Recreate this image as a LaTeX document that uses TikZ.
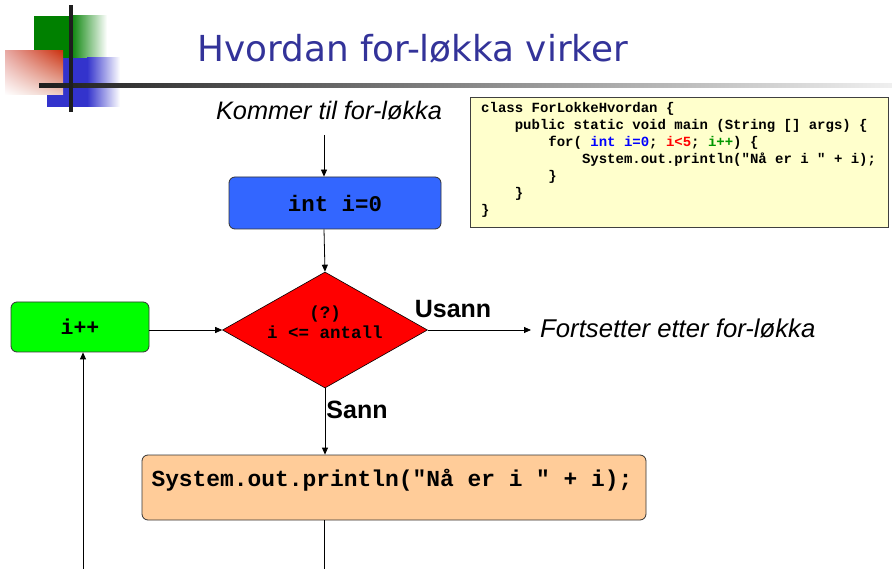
\documentclass[tikz,border=0pt]{standalone}
\usepackage{fontspec}
\setmainfont{Liberation Sans}
\newfontfamily\titlefont{DejaVu Sans}
\newfontfamily\codefont{Liberation Mono}
\usetikzlibrary{shapes.geometric,arrows.meta,shadings}

\definecolor{titleblue}{RGB}{51,51,153}
\definecolor{boxblue}{RGB}{51,102,255}
\definecolor{boxgreen}{RGB}{0,255,0}
\definecolor{boxorange}{RGB}{255,204,153}
\definecolor{codebg}{RGB}{255,255,204}
\definecolor{logogreen}{RGB}{0,128,0}
\definecolor{logoblue}{RGB}{51,51,204}
\definecolor{logored}{RGB}{204,51,17}
\definecolor{logopink}{RGB}{232,170,165}
\definecolor{logopale}{RGB}{238,205,195}
\definecolor{codegreen}{RGB}{0,150,0}
\definecolor{barcol}{RGB}{30,30,30}
\newcommand\codeind{\hspace*{2.4em}}

\begin{document}
\begin{tikzpicture}[x=1pt,y=-1pt,
  conn/.style={draw, line width=0.8pt},
  arr/.style={conn, -{Triangle[length=7pt,width=6pt]}},
  flowbox/.style={draw=black!80, line width=0.8pt, rounded corners=6pt, inner sep=0pt},
  codefnt/.style={font=\codefont\bfseries\fontsize{#1}{#1}\selectfont},
  boldlabel/.style={font=\bfseries\fontsize{25}{28}\selectfont, inner sep=0pt},
]
\useasboundingbox (0,0) rectangle (892,569);

% logo
\fill[logogreen] (34,16) rectangle (70,58);
\shade[left color=logogreen, right color=white] (70,16) rectangle (107,58);
\fill[logoblue] (47,58) rectangle (87,107);
\shade[left color=logoblue, right color=white] (87,58) rectangle (120,107);
\shade[upper left=logopink, upper right=logored, lower left=white, lower right=logopale] (5,51) rectangle (63,95);
\shade[left color=barcol, right color=black!6] (39,84) rectangle (892,88);
\fill[barcol] (69,5) rectangle (73,112);

% title
\node[font=\titlefont\fontsize{35.8}{40}\selectfont, text=titleblue, anchor=base west, inner sep=0pt] (title) at (197,62) {Hvordan for-løkka virker};

% start text
\node[font=\itshape\fontsize{25.3}{28}\selectfont, anchor=base, inner sep=0pt] (kommer) at (329,120) {Kommer til for-løkka};
\coordinate (c0) at (324,135);

% boxes
\node[flowbox, fill=boxblue, minimum width=212pt, minimum height=52pt, codefnt=22.4] (init) at (335,203) {int i=0};
\node[diamond, draw, fill=red, line width=0.6pt, minimum width=205pt, minimum height=116pt, inner sep=0pt] (cond) at (325,330) {};
\node[font=\codefont\bfseries\fontsize{17.5}{20}\selectfont, align=center] (condtxt) at (325,322) {(?)\\i <= antall};
\node[flowbox, fill=boxgreen, minimum width=138pt, minimum height=50pt, codefnt=21.5] (inc) at (80,327) {i++};
\node[flowbox, fill=boxorange, minimum width=504pt, minimum height=65pt] (print) at (394,487.5) {};
\node[codefnt=22.9, inner sep=0pt] (printtxt) at (392,480) {System.out.println("Nå er i " + i);};

% labels
\node[boldlabel] (usann) at (453,309) {Usann};
\node[boldlabel] (sann) at (357,410) {Sann};
\node[font=\itshape\fontsize{25.7}{28}\selectfont, anchor=base west, inner sep=0pt] (fort) at (540,338) {Fortsetter etter for-løkka};

% code box
\node[draw=black!75, line width=1.2pt, fill=codebg, minimum width=418pt, minimum height=130pt, anchor=north west, inner sep=0pt] (codebox) at (470,97) {};
\node[anchor=north west, align=left, inner sep=0pt, font=\codefont\bfseries\fontsize{14}{17}\selectfont] (codetxt) at (481,102) {class ForLokkeHvordan \{\\
\codeind public static void main (String [] args) \{\\
\codeind\codeind for( {\color{blue}int i=0}; {\color{red}i<5}; {\color{codegreen}i++}) \{\\
\codeind\codeind\codeind System.out.println("Nå er i " + i);\\
\codeind\codeind \}\\
\codeind \}\\
\}};

% connectors
\coordinate (b1) at (83,569);
\coordinate (b2) at (324,569);
\coordinate (e1) at (531,330);
\draw[arr] (c0) -- (c0 |- init.north);
\draw[arr] (c0 |- init.south) -- (cond.north);
\draw[arr] (inc.east |- cond.west) -- (cond.west);
\draw[arr] (cond.east) -- (e1);
\draw[arr] (cond.south) -- (cond.south |- print.north);
\draw[conn] (print.south -| b2) -- (b2);
\draw[arr] (b1) -- (b1 |- inc.south);
\end{tikzpicture}
\end{document}
